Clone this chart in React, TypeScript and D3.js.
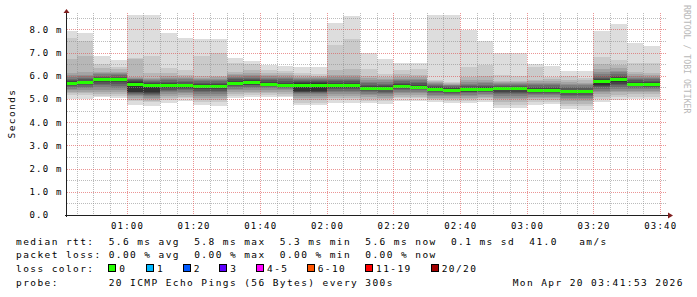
import React from "react";
import * as d3 from "d3";

// ---- data ----
const binEnds = [
  "00:45","00:50","00:55","01:00","01:05","01:10","01:15","01:20","01:25","01:30",
  "01:35","01:40","01:45","01:50","01:55","02:00","02:05","02:10","02:15","02:20",
  "02:25","02:30","02:35","02:40","02:45","02:50","02:55","03:00","03:05","03:10",
  "03:15","03:20","03:25","03:30","03:35","03:40",
];

const medians = [
  5.67, 5.70, 5.82, 5.82, 5.63, 5.59, 5.57, 5.56, 5.52, 5.53,
  5.66, 5.70, 5.62, 5.58, 5.59, 5.59, 5.59, 5.60, 5.46, 5.44,
  5.53, 5.50, 5.40, 5.37, 5.39, 5.41, 5.43, 5.43, 5.37, 5.37,
  5.31, 5.31, 5.74, 5.82, 5.64, 5.61,
];

// 20 sorted ping times (ms) per step
const pings = [
  [4.98,5.18,5.26,5.32,5.38,5.44,5.50,5.55,5.60,5.64,5.70,5.76,5.80,5.86,5.94,6.02,6.10,6.71,7.61,7.93],
  [5.00,5.16,5.25,5.32,5.38,5.45,5.52,5.58,5.63,5.67,5.72,5.78,5.85,5.92,6.00,6.05,6.17,6.86,7.51,7.86],
  [5.07,5.14,5.22,5.30,5.40,5.50,5.58,5.66,5.72,5.78,5.84,5.90,5.96,6.00,6.06,6.12,6.17,6.32,6.50,6.86],
  [5.05,5.12,5.20,5.30,5.40,5.48,5.56,5.64,5.72,5.78,5.84,5.90,5.96,6.02,6.06,6.10,6.18,6.30,6.39,6.68],
  [4.74,4.90,4.96,5.05,5.12,5.18,5.22,5.25,5.28,5.30,5.72,5.76,5.80,5.84,5.86,5.90,5.95,6.72,6.78,8.62],
  [4.70,4.85,4.92,5.00,5.06,5.12,5.16,5.20,5.24,5.28,5.66,5.70,5.74,5.78,5.82,5.86,5.92,6.10,6.85,8.62],
  [4.82,4.95,5.05,5.12,5.20,5.28,5.34,5.40,5.46,5.52,5.62,5.68,5.74,5.80,5.86,5.92,5.99,6.10,6.32,7.86],
  [4.92,5.02,5.10,5.18,5.26,5.32,5.38,5.44,5.48,5.52,5.60,5.66,5.72,5.78,5.84,5.90,5.96,6.02,6.25,7.64],
  [4.72,4.88,4.96,5.04,5.12,5.20,5.28,5.36,5.44,5.48,5.58,5.64,5.70,5.76,5.82,5.88,5.92,5.98,6.87,7.57],
  [4.70,4.86,4.96,5.04,5.12,5.20,5.28,5.36,5.44,5.48,5.58,5.64,5.70,5.76,5.82,5.88,5.94,6.00,6.96,7.57],
  [5.03,5.14,5.22,5.30,5.38,5.44,5.50,5.54,5.58,5.62,5.72,5.78,5.84,5.90,5.96,6.02,6.08,6.17,6.56,6.75],
  [5.07,5.16,5.24,5.32,5.40,5.46,5.52,5.58,5.62,5.66,5.74,5.80,5.86,5.92,5.98,6.04,6.10,6.25,6.50,6.64],
  [5.07,5.16,5.24,5.32,5.40,5.46,5.50,5.54,5.58,5.60,5.66,5.72,5.80,5.86,5.92,5.98,6.04,6.10,6.25,6.46],
  [5.07,5.14,5.22,5.30,5.38,5.44,5.48,5.52,5.55,5.57,5.64,5.70,5.78,5.84,5.90,5.96,6.02,6.10,6.22,6.42],
  [4.74,4.84,4.94,5.04,5.12,5.20,5.24,5.28,5.30,5.34,5.68,5.72,5.76,5.80,5.86,5.90,5.96,6.02,6.10,6.39],
  [4.74,4.84,4.94,5.04,5.12,5.20,5.24,5.28,5.30,5.34,5.68,5.72,5.76,5.80,5.86,5.90,5.96,6.00,6.06,6.36],
  [4.84,4.95,5.04,5.12,5.20,5.28,5.34,5.42,5.48,5.54,5.64,5.70,5.76,5.82,5.88,5.94,6.03,6.25,7.32,8.26],
  [4.84,4.95,5.04,5.12,5.20,5.28,5.34,5.42,5.48,5.52,5.64,5.70,5.76,5.82,5.88,5.94,6.03,6.28,7.57,8.57],
  [4.81,4.92,5.00,5.08,5.16,5.22,5.28,5.34,5.40,5.44,5.50,5.56,5.62,5.68,5.74,5.82,5.90,6.00,6.28,6.99],
  [4.78,4.90,4.98,5.06,5.14,5.20,5.26,5.32,5.38,5.42,5.48,5.54,5.60,5.66,5.72,5.80,5.88,5.96,6.07,6.71],
  [4.93,5.02,5.10,5.18,5.26,5.32,5.38,5.44,5.48,5.51,5.58,5.64,5.70,5.76,5.82,5.88,5.96,6.06,6.25,6.53],
  [4.93,5.02,5.10,5.18,5.26,5.32,5.38,5.42,5.46,5.48,5.56,5.62,5.68,5.74,5.80,5.86,5.94,6.04,6.29,6.53],
  [4.85,4.94,5.00,5.06,5.12,5.18,5.24,5.30,5.34,5.38,5.44,5.50,5.56,5.62,5.66,5.70,5.74,5.78,5.82,8.62],
  [4.82,4.92,5.00,5.06,5.12,5.18,5.22,5.26,5.30,5.34,5.40,5.46,5.50,5.54,5.58,5.62,5.66,5.70,5.74,8.62],
  [4.81,4.92,5.00,5.06,5.12,5.18,5.24,5.28,5.32,5.36,5.42,5.48,5.54,5.60,5.66,5.72,5.80,5.96,6.39,7.97],
  [4.88,4.96,5.04,5.10,5.16,5.22,5.28,5.32,5.36,5.38,5.44,5.50,5.56,5.62,5.68,5.74,5.82,5.98,6.46,7.50],
  [4.62,4.76,4.88,4.98,5.06,5.14,5.20,5.26,5.32,5.38,5.48,5.52,5.56,5.60,5.64,5.68,5.72,5.76,6.03,6.99],
  [4.62,4.76,4.88,4.98,5.06,5.14,5.20,5.26,5.32,5.38,5.48,5.52,5.56,5.60,5.64,5.68,5.72,5.78,6.00,6.96],
  [4.74,4.86,4.94,5.02,5.10,5.16,5.22,5.26,5.30,5.34,5.40,5.46,5.52,5.58,5.64,5.70,5.76,5.82,6.36,6.50],
  [4.77,4.88,4.96,5.04,5.10,5.16,5.22,5.26,5.30,5.34,5.40,5.46,5.52,5.58,5.64,5.70,5.76,5.84,5.96,6.43],
  [4.57,4.70,4.80,4.90,4.98,5.06,5.12,5.18,5.24,5.28,5.34,5.40,5.46,5.52,5.58,5.64,5.72,5.82,5.99,6.22],
  [4.54,4.68,4.80,4.90,4.98,5.06,5.12,5.18,5.24,5.28,5.34,5.40,5.46,5.52,5.58,5.64,5.70,5.80,5.90,6.22],
  [4.88,5.00,5.10,5.20,5.28,5.36,5.44,5.50,5.56,5.62,5.80,5.86,5.92,6.00,6.08,6.16,6.30,6.50,6.82,7.94],
  [4.95,5.08,5.18,5.28,5.36,5.44,5.52,5.60,5.66,5.72,5.88,5.94,6.00,6.06,6.14,6.22,6.32,6.45,6.68,8.23],
  [4.99,5.10,5.20,5.28,5.36,5.42,5.48,5.54,5.58,5.60,5.68,5.74,5.80,5.86,5.92,5.98,6.06,6.17,6.53,7.43],
  [4.99,5.10,5.20,5.28,5.36,5.42,5.48,5.52,5.56,5.58,5.66,5.72,5.78,5.84,5.90,5.96,6.04,6.10,6.53,7.28],
];

const yTickValues = [0, 1, 2, 3, 4, 5, 6, 7, 8];
const lossLabels = ["0", "1", "2", "3", "4-5", "6-10", "11-19", "20/20"];
const lossColors = ["#26ff00", "#00b8ff", "#0059ff", "#5e00ff", "#ff00ff", "#ff5500", "#ff0000", "#a00000"];

const legendLines = [
  "median rtt:  5.6 ms avg  5.8 ms max  5.3 ms min  5.6 ms now  0.1 ms sd  41.0   am/s",
  "packet loss: 0.00 % avg  0.00 % max  0.00 % min  0.00 % now",
];
const probeText = "probe:       20 ICMP Echo Pings (56 Bytes) every 300s";
const dateText = "Mon Apr 20 03:41:53 2026";

// ---- layout ----
const W = 697, H = 297;
const PL = 67, PR = 667, PT = 15, PB = 215;
const MONO = "'DejaVu Sans Mono', monospace";

const t = (hh: number, mm: number, ss = 0) => new Date(Date.UTC(2026, 3, 20, hh, mm, ss));
const parseHM = (s: string) => {
  const [h, m] = s.split(":").map(Number);
  return t(h, m);
};

export default function App() {
  const start = t(0, 42, 6);
  const end = t(3, 42, 6);
  const x = d3.scaleUtc().domain([start, end]).range([PL, PR]);
  const y = d3.scaleLinear().domain([0, 8.616]).range([PB, PT]);

  const smokeColor = (k: number) => {
    const c = Math.floor((190 / 10) * (10 - (k + 1))) + 50;
    const h = c.toString(16).padStart(2, "0");
    return `#${h}${h}${h}`;
  };

  const bars = binEnds.map((s, i) => {
    const e = parseHM(s);
    const b = new Date(e.getTime() - 5 * 60 * 1000);
    const x0 = Math.max(x(b), PL);
    const x1 = x(e);
    return { x0, x1, p: pings[i], med: medians[i] };
  });

  const minorX = x.ticks(d3.utcMinute.every(5) as any).filter((d) => d.getUTCMinutes() % 20 !== 0);
  const majorX = x.ticks(d3.utcMinute.every(20) as any);
  const fmt = d3.utcFormat("%H:%M");
  const minorY = d3.range(0.5, 8.6, 1);
  const majorY = yTickValues.filter((v) => v > 0);

  const gridMinor = "rgba(143,143,143,0.6)";
  const gridMajor = "rgba(222,79,79,0.6)";

  const boxX = [108.3, 146, 182.7, 219.3, 256, 306.7, 365, 430.7];

  return (
    <svg width={W} height={H} style={{ display: "block", position: "absolute", left: 0, top: 0 }}>
      <rect x={0} y={0} width={W} height={H} fill="#ffffff" />
      {/* smoke */}
      <g shapeRendering="crispEdges">
        {bars.map((b, i) => (
          <g key={i}>
            {d3.range(10).map((k) => {
              const lo = b.p[k];
              const hi = b.p[19 - k];
              return (
                <rect key={k} x={b.x0} width={b.x1 - b.x0} y={y(hi)} height={Math.max(0, y(lo) - y(hi))} fill={smokeColor(k)} />
              );
            })}
            <rect x={b.x0} width={b.x1 - b.x0} y={y(b.med) - 1.5} height={3} fill={lossColors[0]} />
          </g>
        ))}
      </g>
      {/* grid */}
      <g shapeRendering="crispEdges" strokeWidth={1} strokeDasharray="1,1">
        {minorY.map((v) => (
          <line key={"my" + v} x1={PL} x2={PR} y1={Math.round(y(v)) + 0.5} y2={Math.round(y(v)) + 0.5} stroke={gridMinor} />
        ))}
        {minorX.map((d) => (
          <line key={"mx" + d.getTime()} x1={Math.round(x(d)) + 0.5} x2={Math.round(x(d)) + 0.5} y1={PT - 2} y2={PB} stroke={gridMinor} />
        ))}
        {majorY.map((v) => (
          <line key={"My" + v} x1={PL} x2={PR} y1={Math.round(y(v)) + 0.5} y2={Math.round(y(v)) + 0.5} stroke={gridMajor} />
        ))}
        {majorX.map((d) => (
          <line key={"Mx" + d.getTime()} x1={Math.round(x(d)) + 0.5} x2={Math.round(x(d)) + 0.5} y1={PT - 2} y2={PB} stroke={gridMajor} />
        ))}
      </g>
      {/* axes */}
      <g shapeRendering="crispEdges">
        <line x1={PL - 0.5} x2={PL - 0.5} y1={PB + 2} y2={11} stroke="#1f1f1f" />
        <line x1={PL - 2} x2={PR + 3} y1={PB + 0.5} y2={PB + 0.5} stroke="#1f1f1f" />
      </g>
      <path d={`M${PL - 3.5},${13} L${PL - 0.5},${9} L${PL + 2.5},${13} Z`} fill="#801f1f" />
      <path d={`M${PR + 1},${PB - 2.5} L${PR + 6},${PB + 0.5} L${PR + 1},${PB + 3.5} Z`} fill="#801f1f" />

      {/* y tick labels */}
      <g fontFamily={MONO} fontSize={9} letterSpacing={1.2} fill="#000">
        {yTickValues.map((v) => (
          <text key={v} x={29.5} y={y(v) + 3.4}>
            {v === 0 ? "0.0" : `${v.toFixed(1)} m`}
          </text>
        ))}
        {majorX.map((d) => (
          <text key={d.getTime()} x={x(d) + 0.8} y={228.5} textAnchor="middle">
            {fmt(d)}
          </text>
        ))}
      </g>

      {/* axis title */}
      <text
        transform="translate(14.5,113.5) rotate(-90)"
        textAnchor="middle"
        fontFamily={MONO}
        fontSize={9.5}
        letterSpacing={1.4}
        fill="#000"
      >
        Seconds
      </text>

      {/* watermark */}
      <text transform="translate(684,5) rotate(90)" fontFamily={MONO} fontSize={8.2} fill="#b8b8b8">
        RRDTOOL / TOBI OETIKER
      </text>

      {/* legend */}
      <g fontFamily={MONO} fontSize={9.5} letterSpacing={1.41} fill="#000" style={{ whiteSpace: "pre" }}>
        <text x={16} y={244.5} xmlSpace="preserve">{legendLines[0]}</text>
        <text x={16} y={258.3} xmlSpace="preserve">{legendLines[1]}</text>
        <text x={16} y={272} xmlSpace="preserve">loss color:</text>
        {lossLabels.map((l, i) => (
          <g key={l}>
            <rect x={boxX[i] + 0.5} y={264.5} width={7} height={7} fill={lossColors[i]} stroke="#000" strokeWidth={1} shapeRendering="crispEdges" />
            <text x={boxX[i] + 11} y={272}>{l}</text>
          </g>
        ))}
        <text x={16} y={285.8} xmlSpace="preserve">{probeText}</text>
        <text x={512.7} y={285.8}>{dateText}</text>
      </g>
    </svg>
  );
}
